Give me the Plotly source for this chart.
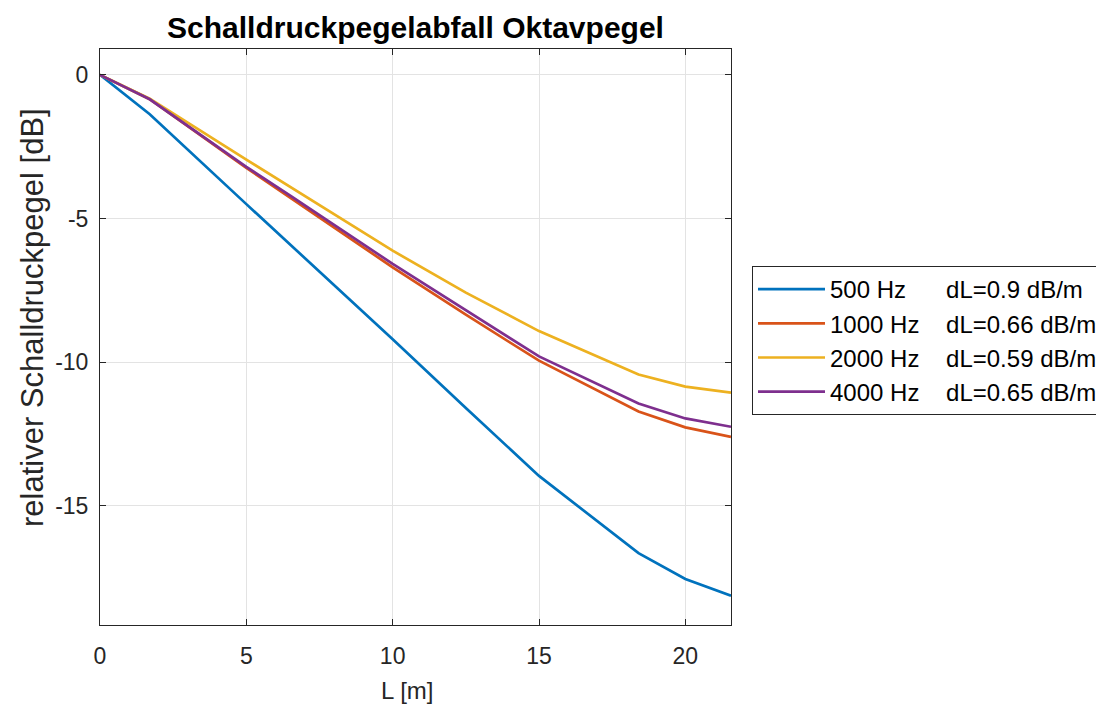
import plotly.graph_objects as go

# distance [m]
L = [0, 1.7, 5, 6.5, 10, 12.5, 15, 18.4, 20, 21.56]

# relative sound pressure level [dB]
lvl_500 = [0, -1.37, -4.5, -5.9, -9.2, -11.6, -13.96, -16.65, -17.55, -18.13]
lvl_1000 = [0, -0.85, -3.24, -4.27, -6.7, -8.35, -9.95, -11.72, -12.27, -12.6]
lvl_2000 = [0, -0.83, -2.95, -3.9, -6.12, -7.58, -8.92, -10.43, -10.85, -11.06]
lvl_4000 = [0, -0.85, -3.2, -4.2, -6.58, -8.2, -9.8, -11.44, -11.96, -12.25]

freq_labels = ["500 Hz", "1000 Hz", "2000 Hz", "4000 Hz"]
dl_labels = ["dL=0.9 dB/m", "dL=0.66 dB/m", "dL=0.59 dB/m", "dL=0.65 dB/m"]
colors = ["#0072BD", "#D95319", "#EDB120", "#7E2F8E"]

x_ticks = [0, 5, 10, 15, 20]
y_ticks = [0, -5, -10, -15]

series = [lvl_500, lvl_1000, lvl_2000, lvl_4000]

FONT = "Liberation Sans, Arial"
NB = "\u00a0"
fig = go.Figure()
for vals, fl, dl, c in zip(series, freq_labels, dl_labels, colors):
    pad = NB * (4 if len(fl) == 6 else 2)
    name = fl + pad + NB * 2 + dl
    fig.add_trace(go.Scatter(x=L, y=vals, mode="lines", name=name,
                             line=dict(color=c, width=2.7)))

axis_common = dict(
    showgrid=True, gridcolor="#e3e3e3", gridwidth=1,
    showline=True, linecolor="#262626", linewidth=1, mirror="ticks",
    ticks="inside", ticklen=6, tickcolor="#262626",
    zeroline=False,
    tickfont=dict(family=FONT, size=23, color="#262626"),
)

# page body has an 8px offset; figure coordinates compensate for it
OFF = 8
W, H = 1104, 708
pl, pr, pt, pb = 100 - OFF, 731 - OFF, 49 - OFF, 625 - OFF
pw, ph = pr - pl, pb - pt

fig.update_xaxes(range=[0, 21.56], tickvals=x_ticks, ticktext=[str(v) for v in x_ticks],
                 ticklabelstandoff=10, **axis_common)
fig.update_yaxes(range=[-19.15, 0.9], tickvals=y_ticks, ticktext=[str(v) for v in y_ticks],
                 ticklabelstandoff=6, **axis_common)

# axis titles
fig.add_annotation(text="L [m]", xref="paper", yref="paper",
                   x=(407 - OFF - pl) / pw, y=(pb - (690 - OFF)) / ph,
                   xanchor="center", yanchor="middle", showarrow=False,
                   font=dict(family=FONT, size=24, color="#262626"))
fig.add_annotation(text="relativer Schalldruckpegel [dB]", xref="paper", yref="paper",
                   x=(32 - OFF - pl) / pw, y=(pb - (318 - OFF)) / ph,
                   xanchor="center", yanchor="middle", showarrow=False, textangle=-90,
                   font=dict(family=FONT, size=31, color="#262626"))

fig.update_layout(
    width=W, height=H,
    margin=dict(l=pl, r=W - pr, t=pt, b=H - pb, autoexpand=False),
    paper_bgcolor="white", plot_bgcolor="white",
    title=dict(text="<b>Schalldruckpegelabfall Oktavpegel</b>",
               font=dict(family=FONT, size=30, color="black"),
               x=0.5, xref="paper", xanchor="center",
               y=1 - (27 - OFF) / H, yref="container", yanchor="middle"),
    showlegend=True,
    legend=dict(x=(752 - OFF - pl) / pw, xanchor="left",
                y=(pb - (266 - OFF)) / ph, yanchor="top",
                bgcolor="white", bordercolor="#262626", borderwidth=1,
                font=dict(family=FONT, size=24, color="black"),
                itemwidth=67, tracegroupgap=0),
)

fig.write_html("out.html")
